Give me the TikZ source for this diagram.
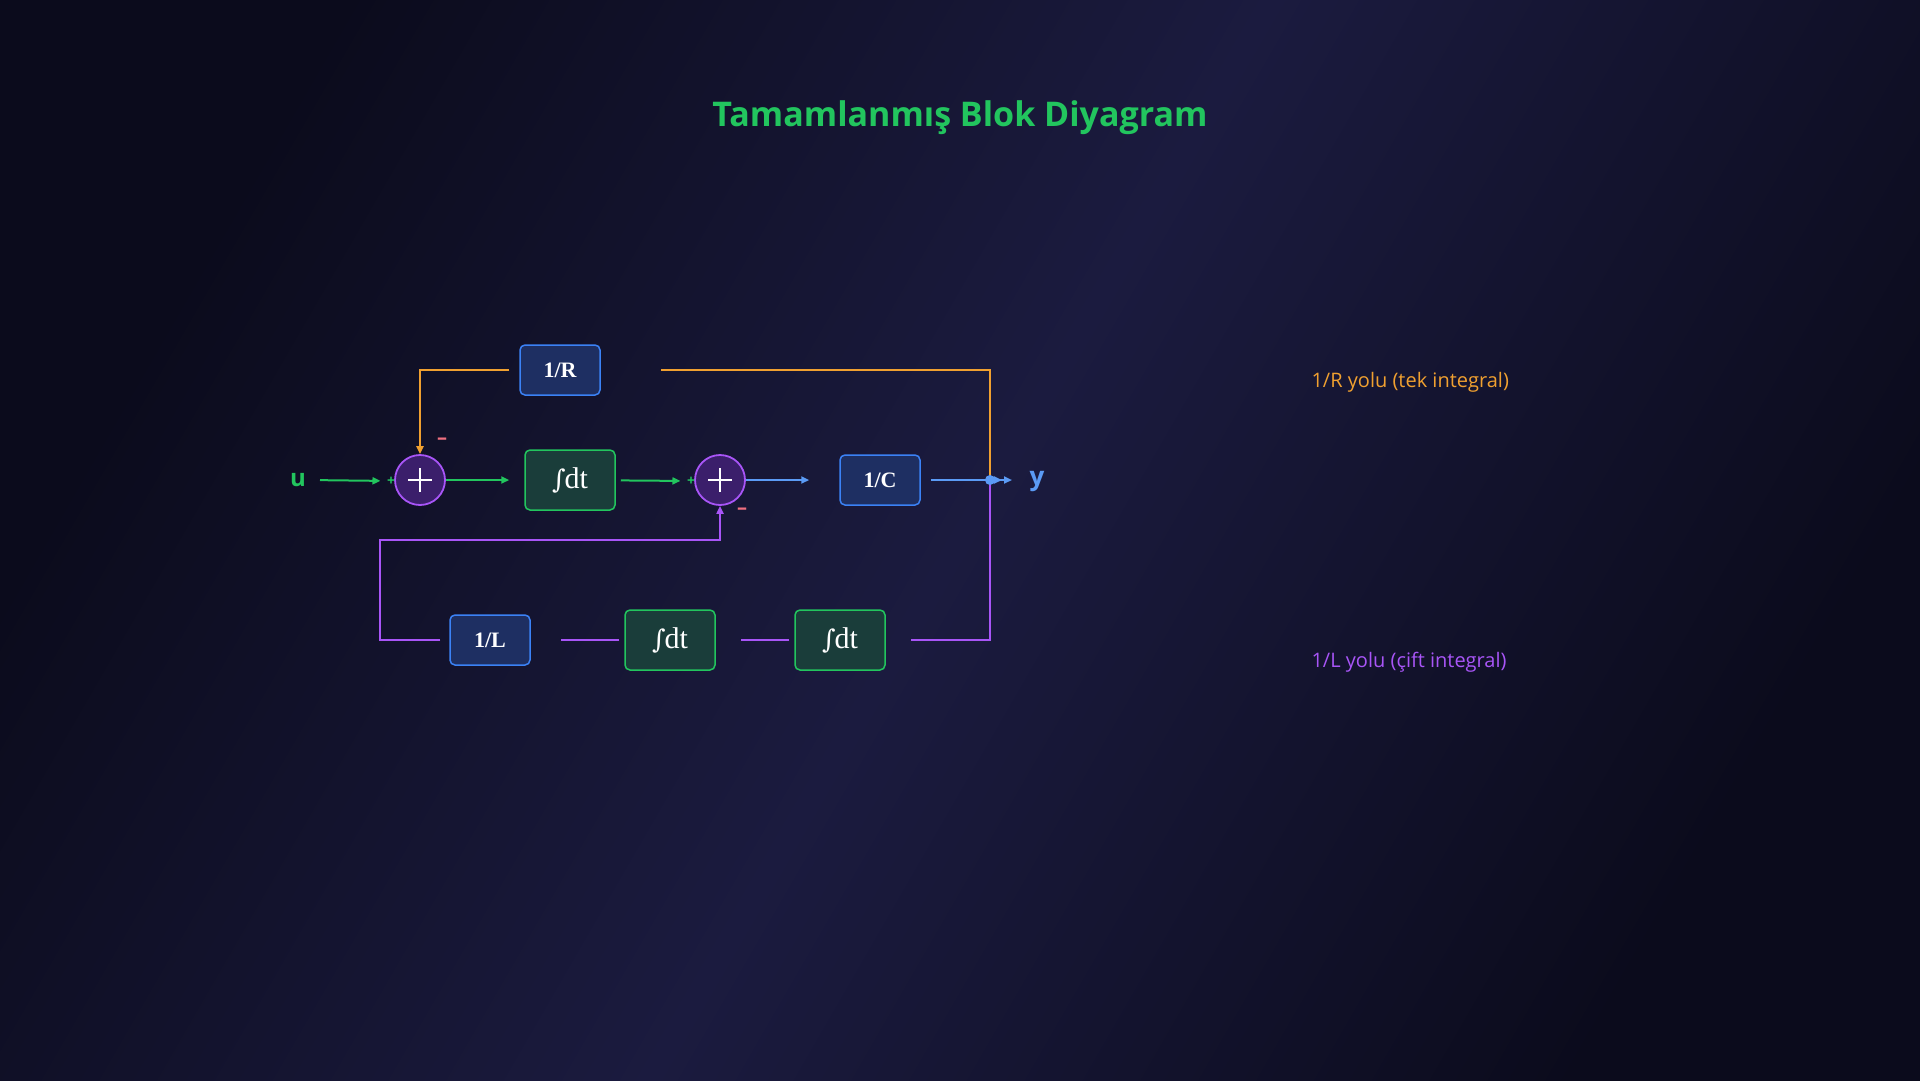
\documentclass[tikz,border=0pt]{standalone}
\usepackage{fontspec}
\setmainfont{Open Sans}
\newfontfamily\boxfont{Liberation Serif}
\newfontfamily\intfont{DejaVu Serif}
\usetikzlibrary{arrows.meta}
\definecolor{bgA}{HTML}{0B0B1C}
\definecolor{bgB}{HTML}{1B1B3F}
\definecolor{cgreen}{HTML}{22C55E}
\definecolor{corange}{HTML}{F0A030}
\definecolor{cpurple}{HTML}{A855F7}
\definecolor{cblue}{HTML}{5B9BF5}
\definecolor{bblue}{HTML}{3B82F6}
\definecolor{bfill}{HTML}{1E2F62}
\definecolor{gfill}{HTML}{1A3D3A}
\definecolor{sfill}{HTML}{3B1F6B}
\definecolor{cminus}{HTML}{F07080}
\newcommand{\intdt}{{\intfont\fontsize{26}{28}\selectfont ∫}\kern-1pt dt}
\begin{document}
\begin{tikzpicture}[x=1pt,y=-1pt,
  bbox/.style={draw=bblue,fill=bfill,rounded corners=5pt,line width=1.5pt,minimum width=80pt,minimum height=50pt,text=white,font=\boxfont\bfseries\fontsize{22}{24}\selectfont},
  gbox/.style={draw=cgreen,fill=gfill,rounded corners=5pt,line width=1.5pt,minimum width=90pt,minimum height=60pt,text=white,font=\boxfont\fontsize{30}{32}\selectfont},
  sum/.style={circle,draw=cpurple,fill=sfill,line width=1.8pt,minimum size=50pt,inner sep=0pt},
  arr/.style={line width=2pt,-{Triangle[length=8pt,width=7pt]}},
  ln/.style={line width=1.8pt},
  sign/.style={font=\bfseries\fontsize{20}{20}\selectfont}]
\shade[left color=bgA,right color=bgA,middle color=bgB,shading angle=60] (0,0) rectangle (1920,1080);
\useasboundingbox (0,0) rectangle (1920,1080);
\node[text=cgreen,font=\bfseries\fontsize{34}{36}\selectfont] (title) at (960,118) {Tamamlanmış Blok Diyagram};
% nodes
\node[text=cgreen,font=\bfseries\fontsize{24}{24}\selectfont] (u) at (298,480) {u};
\node[sum] (s1) at (420,480) {};
\draw[white,line width=1.6pt] (s1.center) +(-12,0) -- +(12,0) (s1.center) +(0,-12) -- +(0,12);
\node[gbox] (i1) at (570,480) {\intdt};
\node[sum] (s2) at (720,480) {};
\draw[white,line width=1.6pt] (s2.center) +(-12,0) -- +(12,0) (s2.center) +(0,-12) -- +(0,12);
\node[bbox] (C) at (880,480) {1/C};
\node[text=cblue,font=\bfseries\fontsize{26}{26}\selectfont] (y) at (1037,482) {y};
\node[bbox] (R) at (560,370) {1/R};
\node[bbox] (L) at (490,640) {1/L};
\node[gbox] (i2) at (670,640) {\intdt};
\node[gbox] (i3) at (840,640) {\intdt};
\coordinate (yj) at (990,480);
\coordinate (yo) at (1012,480);
\coordinate (pc) at (380,540);
% signs
\node[sign,text=cgreen,font=\bfseries\fontsize{14}{14}\selectfont] (p1) at (391,481) {+};
\node[sign,text=cgreen,font=\bfseries\fontsize{14}{14}\selectfont] (p2) at (691,481) {+};
\node[sign,text=cminus] (m1) at (442,441) {–};
\node[sign,text=cminus] (m2) at (742,511) {–};
% main path
\draw[arr,cgreen,shorten <=12pt,shorten >=3pt] (u.center) ++(10,0) -- (p1);
\draw[arr,cgreen,shorten >=15pt] (s1) -- (i1);
\draw[arr,cgreen,shorten <=5pt,shorten >=3pt] (i1) -- (p2);
\draw[arr,cblue,shorten >=30pt] (s2) -- (C);
\draw[arr,cblue,shorten <=10pt] (C) -- (yo);
\draw[cblue,-{Triangle[length=8pt,width=7pt]},line width=2pt] (yj) -- ++(12,0);
% 1/R path
\draw[ln,corange,shorten <=60pt] (R.east) -| (yj);
\draw[arr,corange,shorten <=10pt] (R.west) -| (s1.north);
% 1/L path
\draw[ln,cpurple,shorten >=25pt] (yj) |- (i3.east);
\draw[ln,cpurple,shorten <=5pt,shorten >=25pt] (i3.west) -- (i2.east);
\draw[ln,cpurple,shorten <=5pt,shorten >=30pt] (i2.west) -- (L.east);
\draw[arr,cpurple,shorten <=9pt] (L.west) -| (pc) -| (s2.south);
\fill[cblue] (yj) circle (5pt);
% legend
\node[anchor=west,text=corange,font=\fontsize{20}{22}\selectfont] (lr) at (1308,382) {1/R yolu (tek integral)};
\node[anchor=west,text=cpurple,font=\fontsize{20}{22}\selectfont] (ll) at (1308,662) {1/L yolu (çift integral)};
\end{tikzpicture}
\end{document}
